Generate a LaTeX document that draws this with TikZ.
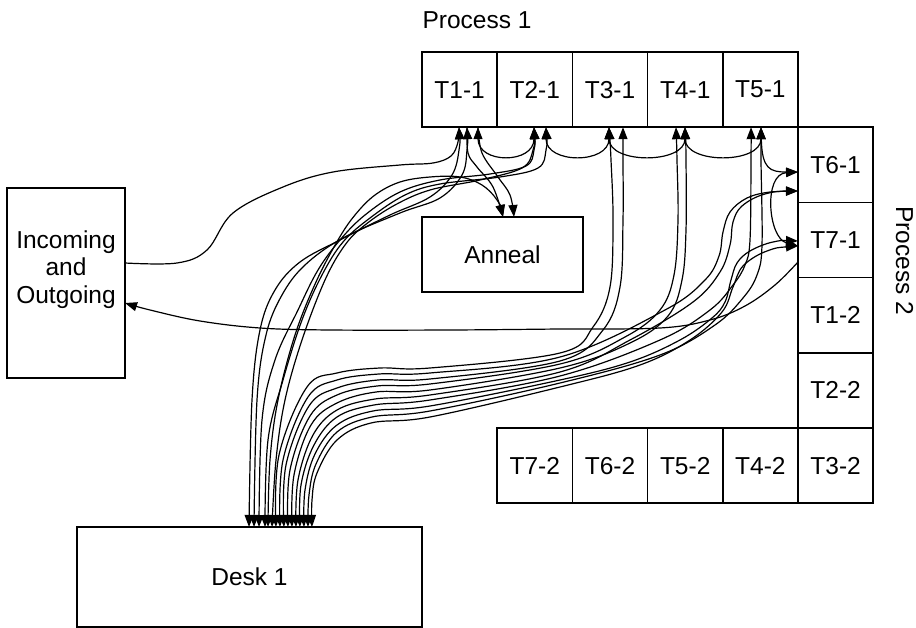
\documentclass[tikz,border=0pt]{standalone}
\usepackage{fontspec}
\setmainfont{Liberation Sans}
\usetikzlibrary{arrows.meta,calc}
\tikzset{flowtip/.tip={Triangle[length=12pt,width=9pt]}}
\begin{document}
\begin{tikzpicture}[x=1pt,y=-1pt,
  box/.style={draw, line width=1.7pt, inner sep=0pt, outer sep=0pt, minimum width=75.2pt, minimum height=75.2pt, font=\fontsize{24.5}{27.5}\selectfont},
  lbl/.style={inner sep=0pt, font=\fontsize{24.5}{27.5}\selectfont},
  flow/.style={line width=1.2pt},
  both/.style={flow, flowtip-flowtip},
  one/.style={flow, -flowtip}]
\useasboundingbox (0,0) rectangle (916,628);
% boxes
\node[box] (t11) at (459.6,89.6) {T1-1};
\node[box] (t21) at (534.8,89.6) {T2-1};
\node[box] (t31) at (610,89.6) {T3-1};
\node[box] (t41) at (685.2,89.6) {T4-1};
\node[box] (t51) at (760.4,89.6) {T5-1};
\node[box] (t61) at (835.6,164.8) {T6-1};
\node[box] (t71) at (835.6,240) {T7-1};
\node[box] (t12) at (835.6,315.2) {T1-2};
\node[box] (t22) at (835.6,390.4) {T2-2};
\node[box] (t32) at (835.6,465.6) {T3-2};
\node[box] (t42) at (760.4,465.6) {T4-2};
\node[box] (t52) at (685.2,465.6) {T5-2};
\node[box] (t62) at (610,465.6) {T6-2};
\node[box] (t72) at (534.8,465.6) {T7-2};
\node[box, minimum width=161pt, minimum height=75pt] (ann) at (502.5,254.5) {Anneal};
\node[box, minimum width=118pt, minimum height=190pt] (inc) at (66,283) {};
\node[lbl, align=center] (inctext) at (66,269.4) {Incoming\\and\\Outgoing};
\node[box, minimum width=345pt, minimum height=100pt] (desk) at (249.5,577) {Desk 1};
\node[lbl, anchor=base] (p1lbl) at (477,28.3) {Process 1};
\node[lbl, anchor=base, rotate=-90] (p2lbl) at (896,260.5) {Process 2};
% connection points
\coordinate (p1a) at ($(t11.south)+(-0.6,0)$);
\coordinate (p1b) at ($(t11.south)+(7.4,0)$);
\coordinate (p1c) at ($(t11.south)+(18.4,0)$);
\coordinate (p2a) at ($(t21.south)+(-0.8,0)$);
\coordinate (p2b) at ($(t21.south)+(11.2,0)$);
\coordinate (p3a) at ($(t31.south)+(-1,0)$);
\coordinate (p3b) at ($(t31.south)+(13,0)$);
\coordinate (p4a) at ($(t41.south)+(-9.2,0)$);
\coordinate (p4b) at ($(t41.south)+(-0.2,0)$);
\coordinate (p5a) at ($(t51.south)+(-9.4,0)$);
\coordinate (p5b) at ($(t51.south)+(0.6,0)$);
\coordinate (q6a) at ($(t61.west)+(0,7.2)$);
\coordinate (q6b) at ($(t61.west)+(0,26.2)$);
\coordinate (q7a) at ($(t71.west)+(0,1)$);
\coordinate (q7b) at ($(t71.west)+(0,6)$);
\coordinate (q7c) at ($(t71.west)+(0,22)$);
\coordinate (n1) at ($(ann.north)+(0.5,0)$);
\coordinate (n2) at ($(ann.north)+(11.5,0)$);
\coordinate (ia) at ($(inc.east)+(0,-20)$);
\coordinate (ib) at ($(inc.east)+(0,20)$);
\foreach \i/\x in {1/249,2/254,3/259,4/265,5/268,6/272,7/276,8/280,9/284,10/288,11/292,12/296,13/300,14/304,15/308,16/312}
  {\coordinate (dk\i) at ($(desk.north)+(\x-249.5,0)$);}
% arcs along process 1
\draw[both] (p1c) .. controls +(0,37) and +(0,37) .. (p2a);
\draw[both] (p2b) .. controls +(0,37) and +(0,37) .. (p3a);
\draw[both] (p3a) .. controls +(0,37) and +(0,37) .. (p4b);
\draw[both] (p4b) .. controls +(0,37) and +(0,37) .. (p5b);
\draw[both] (p5b) .. controls +(1,42) and +(-28,0) .. (q6a);
\draw[both] (q6a) .. controls +(-35,2) and +(-30,-8) .. (q7b);
% anneal
\draw[one] plot[smooth,tension=0.6] coordinates {(p1b) (468,153) (477,167) (493,187) (n1)};
\draw[one] plot[smooth,tension=0.6] coordinates {(p1c) (482,153) (498,177) (510,195) (n2)};
% incoming / outgoing
\draw[one] plot[smooth,tension=0.6] coordinates {(ia) (177,263) (207,250) (233,213) (283,187) (333,172) (400,165) (433,163) (451,156) (458,142) (p1a)};
\draw[one] plot[smooth,tension=0.6] coordinates {(q7c) (775,285) (745,306) (710,320) (660,328) (560,329) (450,330) (330,330) (260,328) (200,321) (150,310) (ib)};
% upper bundle to desk
\draw[both] plot[smooth,tension=0.6] coordinates {(p1a) (459,150) (452,175) (430,197) (390,215) (340,240) (300,262) (275,290) (260,330) (252,400) (dk1)};
\draw[both] plot[smooth,tension=0.6] coordinates {(p1b) (467,150) (462,175) (440,198) (400,213) (343,238) (305,265) (282,295) (266,335) (257,400) (dk2)};
\draw[both] plot[smooth,tension=0.6] coordinates {(p2a) (534,150) (526,166) (490,174) (440,180) (400,192) (365,215) (340,240) (318,270) (298,310) (275,360) (262,420) (dk3)};
\draw[both] plot[smooth,tension=0.6] coordinates {(p2b) (546,150) (538,168) (500,177) (440,184) (405,195) (370,218) (343,242) (322,275) (302,320) (283,380) (268,440) (dk4)};
\draw[both] plot[smooth,tension=0.6] coordinates {(n1) (497,200) (482,185) (460,177) (430,177) (400,182) (375,195) (355,215) (338,240) (316,282) (295,335) (278,400) (270,460) (dk5)};
\draw[both] plot[smooth,tension=0.6] coordinates {(p2a) (533,150) (522,168) (480,180) (430,190) (395,205) (365,225) (345,245) (325,280) (302,340) (285,400) (276,460) (dk6)};
% lower bundle to desk
\draw[both] plot[smooth,tension=0.6] coordinates {(p3a) (611,160) (613,220) (610,287) (593,327) (560,353) (430,368) (380,368) (337,373) (307,387) (279,455) (dk7)};
\draw[both] plot[smooth,tension=0.6] coordinates {(q6b) (770,192) (747,198) (730,212) (723,232) (719,256) (705,280) (665,310) (560,357) (430,373) (379,374) (337,380) (308,397) (283,460) (dk8)};
\draw[both] plot[smooth,tension=0.6] coordinates {(p3b) (623,160) (623,220) (620,287) (603,330) (560,361) (430,379) (378,380) (337,388) (309,406) (286,465) (dk9)};
\draw[both] plot[smooth,tension=0.6] coordinates {(p4a) (677,160) (678,220) (674,275) (660,310) (625,337) (560,364) (430,384) (377,386) (337,395) (310,416) (290,470) (dk10)};
\draw[both] plot[smooth,tension=0.6] coordinates {(p4b) (686,160) (686,230) (682,280) (668,316) (630,343) (560,368) (430,390) (376,392) (337,403) (311,425) (294,475) (dk11)};
\draw[both] plot[smooth,tension=0.6] coordinates {(q6b) (765,194) (742,206) (733,222) (730,245) (720,272) (693,302) (630,340) (560,372) (430,395) (375,399) (337,410) (313,435) (298,480) (dk12)};
\draw[both] plot[smooth,tension=0.6] coordinates {(p5a) (751,160) (750,240) (745,265) (733,285) (710,310) (660,340) (560,376) (430,400) (374,405) (337,417) (314,445) (301,485) (dk13)};
\draw[both] plot[smooth,tension=0.6] coordinates {(q7a) (773,242) (750,251) (737,263) (731,280) (725,302) (712,318) (680,340) (630,362) (560,380) (430,406) (373,411) (337,425) (315,454) (305,490) (dk14)};
\draw[both] plot[smooth,tension=0.6] coordinates {(p5b) (761,160) (762,245) (757,275) (743,298) (715,325) (660,355) (560,383) (430,411) (372,417) (337,432) (316,464) (309,495) (dk15)};
\draw[both] plot[smooth,tension=0.6] coordinates {(q7b) (767,251) (743,266) (733,287) (722,312) (690,340) (640,365) (560,387) (430,417) (371,423) (337,440) (317,473) (312,500) (dk16)};
\end{tikzpicture}
\end{document}
